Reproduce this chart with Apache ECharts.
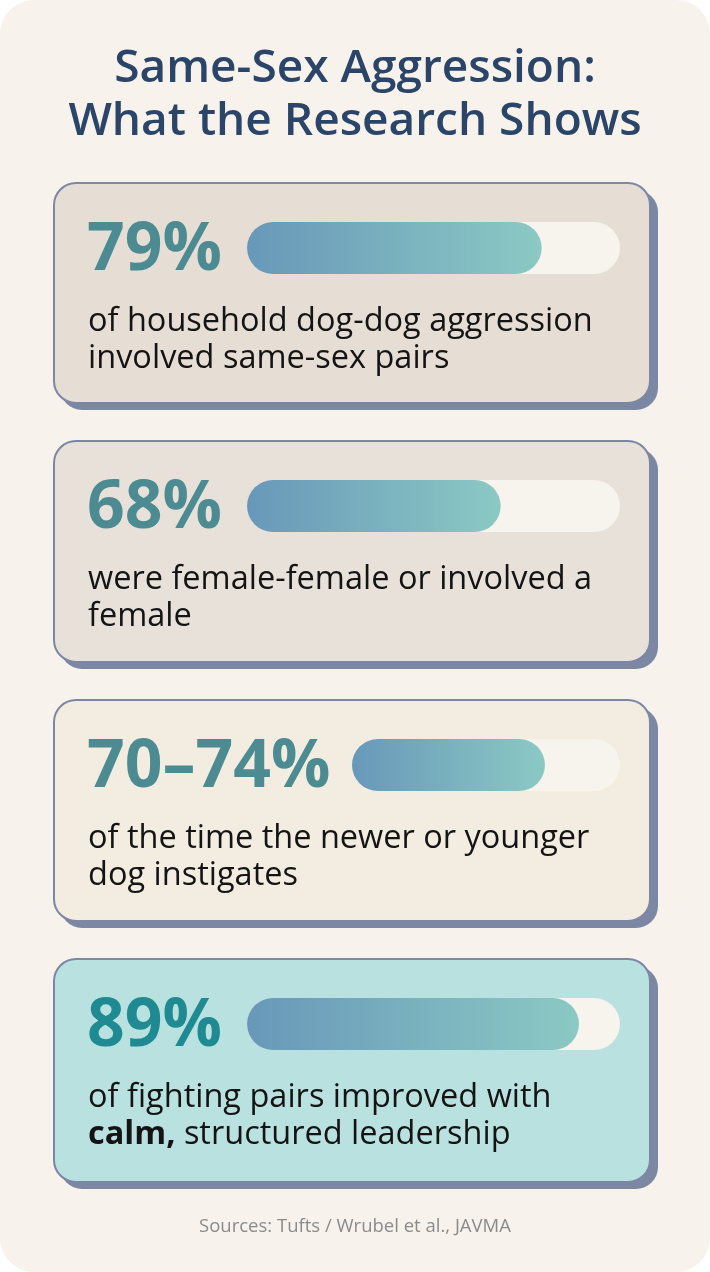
<!DOCTYPE html>
<html>
<head>
<meta charset="utf-8">
<script src="https://cdn.jsdelivr.net/npm/echarts@6/dist/echarts.min.js"></script>
<style>
  html, body { margin: 0; padding: 0; background: #ffffff; }
  #main { width: 710px; height: 1272px; }
</style>
</head>
<body>
<div id="main"></div>
<script>
// data
var titleLines = ['Same-Sex Aggression:', 'What the Research Shows'];
var statLabels = ['79%', '68%', '70–74%', '89%'];
var statValues = [79, 68, 72, 89];
var descLines = [
    ['of household dog-dog aggression', 'involved same-sex pairs'],
    ['were female-female or involved a', 'female'],
    ['of the time the newer or younger', 'dog instigates'],
    ['of fighting pairs improved with', '{b|calm,} structured leadership']
];
var sourceText = 'Sources: Tufts / Wrubel et al., JAVMA';

// layout
var cardTop = [183, 441, 700, 959];
var cardH = [220, 221, 221, 223];
var cardFill = ['#e6ded5', '#e7e1d9', '#f2ece1', '#b9e1e0'];
var labelColor = ['#4b8b91', '#4b8b91', '#4b8b91', '#1f8a91'];
var barLeft = [247, 247, 352, 247];
var barRight = 620;
var barH = 52;
var font = "'Open Sans', 'DejaVu Sans', sans-serif";

var myChart = echarts.init(document.getElementById('main'));

var grids = [], xAxes = [], yAxes = [], series = [];
var graphics = [
    { type: 'rect', z: 0, shape: { x: 0, y: 0, width: 710, height: 1272, r: 34 }, style: { fill: '#f7f3ec' } }
];

titleLines.forEach(function (t, i) {
    graphics.push({
        type: 'text', z: 5,
        style: { text: t, x: 355, y: 69 + i * 53, align: 'center', verticalAlign: 'middle',
                 font: '600 46px ' + font, fill: '#2b4568' }
    });
});

statValues.forEach(function (v, i) {
    var top = cardTop[i];
    // offset shadow + card
    graphics.push({ type: 'rect', z: 1, shape: { x: 60, y: top + 7, width: 598, height: cardH[i], r: 22 },
                    style: { fill: '#7c87a4' } });
    graphics.push({ type: 'rect', z: 2, shape: { x: 54, y: top, width: 596, height: cardH[i], r: 22 },
                    style: { fill: cardFill[i], stroke: '#7c87a4', lineWidth: 2 } });
    graphics.push({ type: 'text', z: 5,
        style: { text: statLabels[i], x: 87, y: top + 68, verticalAlign: 'middle',
                 font: 'bold 66px ' + font, fill: labelColor[i] } });
    graphics.push({ type: 'text', z: 5,
        style: { text: descLines[i].join('\n'), x: 88, y: top + 120, verticalAlign: 'top',
                 font: '32.5px ' + font, fill: '#141414', lineHeight: 37,
                 rich: { b: { font: 'bold 32.5px ' + font, fill: '#141414', lineHeight: 37 } } } });

    grids.push({ left: barLeft[i], top: top + 39, width: barRight - barLeft[i], height: barH });
    xAxes.push({ type: 'value', gridIndex: i, min: 0, max: 100, show: false });
    yAxes.push({ type: 'category', gridIndex: i, data: [statLabels[i]], show: false });
    series.push({
        type: 'bar', xAxisIndex: i, yAxisIndex: i, z: 3,
        data: [v], barWidth: barH,
        showBackground: true,
        backgroundStyle: { color: '#f7f3ed', borderRadius: barH / 2 },
        itemStyle: {
            borderRadius: barH / 2,
            color: new echarts.graphic.LinearGradient(0, 0, 1, 0, [
                { offset: 0, color: '#6898b9' },
                { offset: 1, color: '#8bc9c4' }
            ])
        },
        silent: true
    });
});

graphics.push({
    type: 'text', z: 5,
    style: { text: sourceText, x: 355, y: 1227, align: 'center', verticalAlign: 'middle',
             font: '18.5px ' + font, fill: '#8b8b8b' }
});

var option = {
    backgroundColor: '#ffffff',
    animation: false,
    grid: grids,
    xAxis: xAxes,
    yAxis: yAxes,
    series: series,
    graphic: graphics
};
myChart.setOption(option);
</script>
</body>
</html>
